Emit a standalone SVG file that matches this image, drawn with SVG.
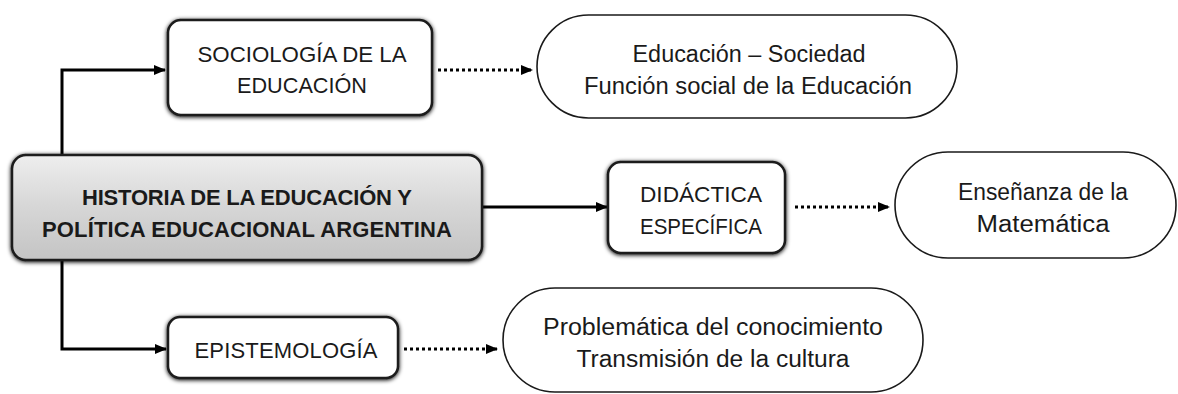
<svg xmlns="http://www.w3.org/2000/svg" width="1178" height="394" viewBox="0 0 1178 394">
<style>
.t{font-family:"Liberation Sans",Arial,sans-serif;font-size:22px;fill:#1a1a1a;text-anchor:middle}
.tl{font-family:"Liberation Sans",Arial,sans-serif;font-size:23px;fill:#1a1a1a;text-anchor:middle}
.tb{font-family:"Liberation Sans",Arial,sans-serif;font-size:22px;font-weight:bold;fill:#1a1a1a;text-anchor:middle}
.box{fill:#fff;stroke:#1a1a1a;stroke-width:2.5;filter:url(#sh)}
.pill{fill:#fff;stroke:#1a1a1a;stroke-width:1.6}
.solid{fill:none;stroke:#000;stroke-width:3;marker-end:url(#ah)}
.dot{fill:none;stroke:#000;stroke-width:3;stroke-dasharray:3 3;marker-end:url(#ah)}
</style>
<defs>
<filter id="sh" x="-10%" y="-20%" width="120%" height="140%">
<feGaussianBlur in="SourceAlpha" stdDeviation="2"/>
<feOffset dx="0" dy="1" result="b"/>
<feMerge><feMergeNode in="b"/><feMergeNode in="SourceGraphic"/></feMerge>
</filter>
<linearGradient id="gr" x1="0" y1="0" x2="0" y2="1">
<stop offset="0" stop-color="#eeeeee"/>
<stop offset="0.5" stop-color="#d6d6d6"/>
<stop offset="1" stop-color="#c4c4c4"/>
</linearGradient>
<marker id="ah" markerWidth="12" markerHeight="10" refX="11" refY="5" orient="auto" markerUnits="userSpaceOnUse">
<path d="M0,0 L12,5 L0,10 Z" fill="#000"/>
</marker>
</defs>
<g id="connectors">
<path class="solid" d="M62,160 L62,70 L165,70"/>
<path class="solid" d="M62,260 L62,349 L166,349"/>
<path class="solid" d="M482,207 L607,207"/>
<path class="dot" d="M438,70 L532,70"/>
<path class="dot" d="M795,207 L889,207"/>
<path class="dot" d="M404,349 L497,349"/>
</g>
<g id="main">
<rect class="box" x="12" y="155" width="470" height="105" rx="14" style="fill:url(#gr)"/>
<text class="tb" x="247" y="205" textLength="330" lengthAdjust="spacing">HISTORIA DE LA EDUCACIÓN Y</text>
<text class="tb" x="247" y="237" textLength="410" lengthAdjust="spacing">POLÍTICA EDUCACIONAL ARGENTINA</text>
</g>
<g id="sociologia">
<rect class="box" x="168" y="20" width="264" height="95" rx="13"/>
<text class="t" x="302" y="62" textLength="209" lengthAdjust="spacingAndGlyphs">SOCIOLOGÍA DE LA</text>
<text class="t" x="302" y="93" textLength="130" lengthAdjust="spacingAndGlyphs">EDUCACIÓN</text>
</g>
<g id="didactica">
<rect class="box" x="608" y="162" width="177" height="91" rx="13"/>
<text class="t" x="701" y="202" textLength="122" lengthAdjust="spacingAndGlyphs">DIDÁCTICA</text>
<text class="t" x="701" y="234" textLength="122" lengthAdjust="spacingAndGlyphs">ESPECÍFICA</text>
</g>
<g id="epistemologia">
<rect class="box" x="168" y="317" width="230" height="61" rx="12"/>
<text class="t" x="286" y="358" textLength="183" lengthAdjust="spacing">EPISTEMOLOGÍA</text>
</g>
<g id="sociedad">
<rect class="pill" x="537" y="15" width="420" height="103" rx="51.5"/>
<text class="tl" x="749" y="62" textLength="233" lengthAdjust="spacingAndGlyphs">Educación – Sociedad</text>
<text class="tl" x="748" y="94" textLength="328" lengthAdjust="spacingAndGlyphs">Función social de la Educación</text>
</g>
<g id="matematica">
<rect class="pill" x="895" y="152" width="281" height="106" rx="53"/>
<text class="tl" x="1043" y="200" textLength="170" lengthAdjust="spacingAndGlyphs">Enseñanza de la</text>
<text class="tl" x="1043" y="232" textLength="133" lengthAdjust="spacingAndGlyphs">Matemática</text>
</g>
<g id="cultura">
<rect class="pill" x="503" y="288" width="420" height="104" rx="52"/>
<text class="tl" x="713" y="335" textLength="340" lengthAdjust="spacingAndGlyphs">Problemática del conocimiento</text>
<text class="tl" x="713" y="367" textLength="273" lengthAdjust="spacingAndGlyphs">Transmisión de la cultura</text>
</g>
</svg>
